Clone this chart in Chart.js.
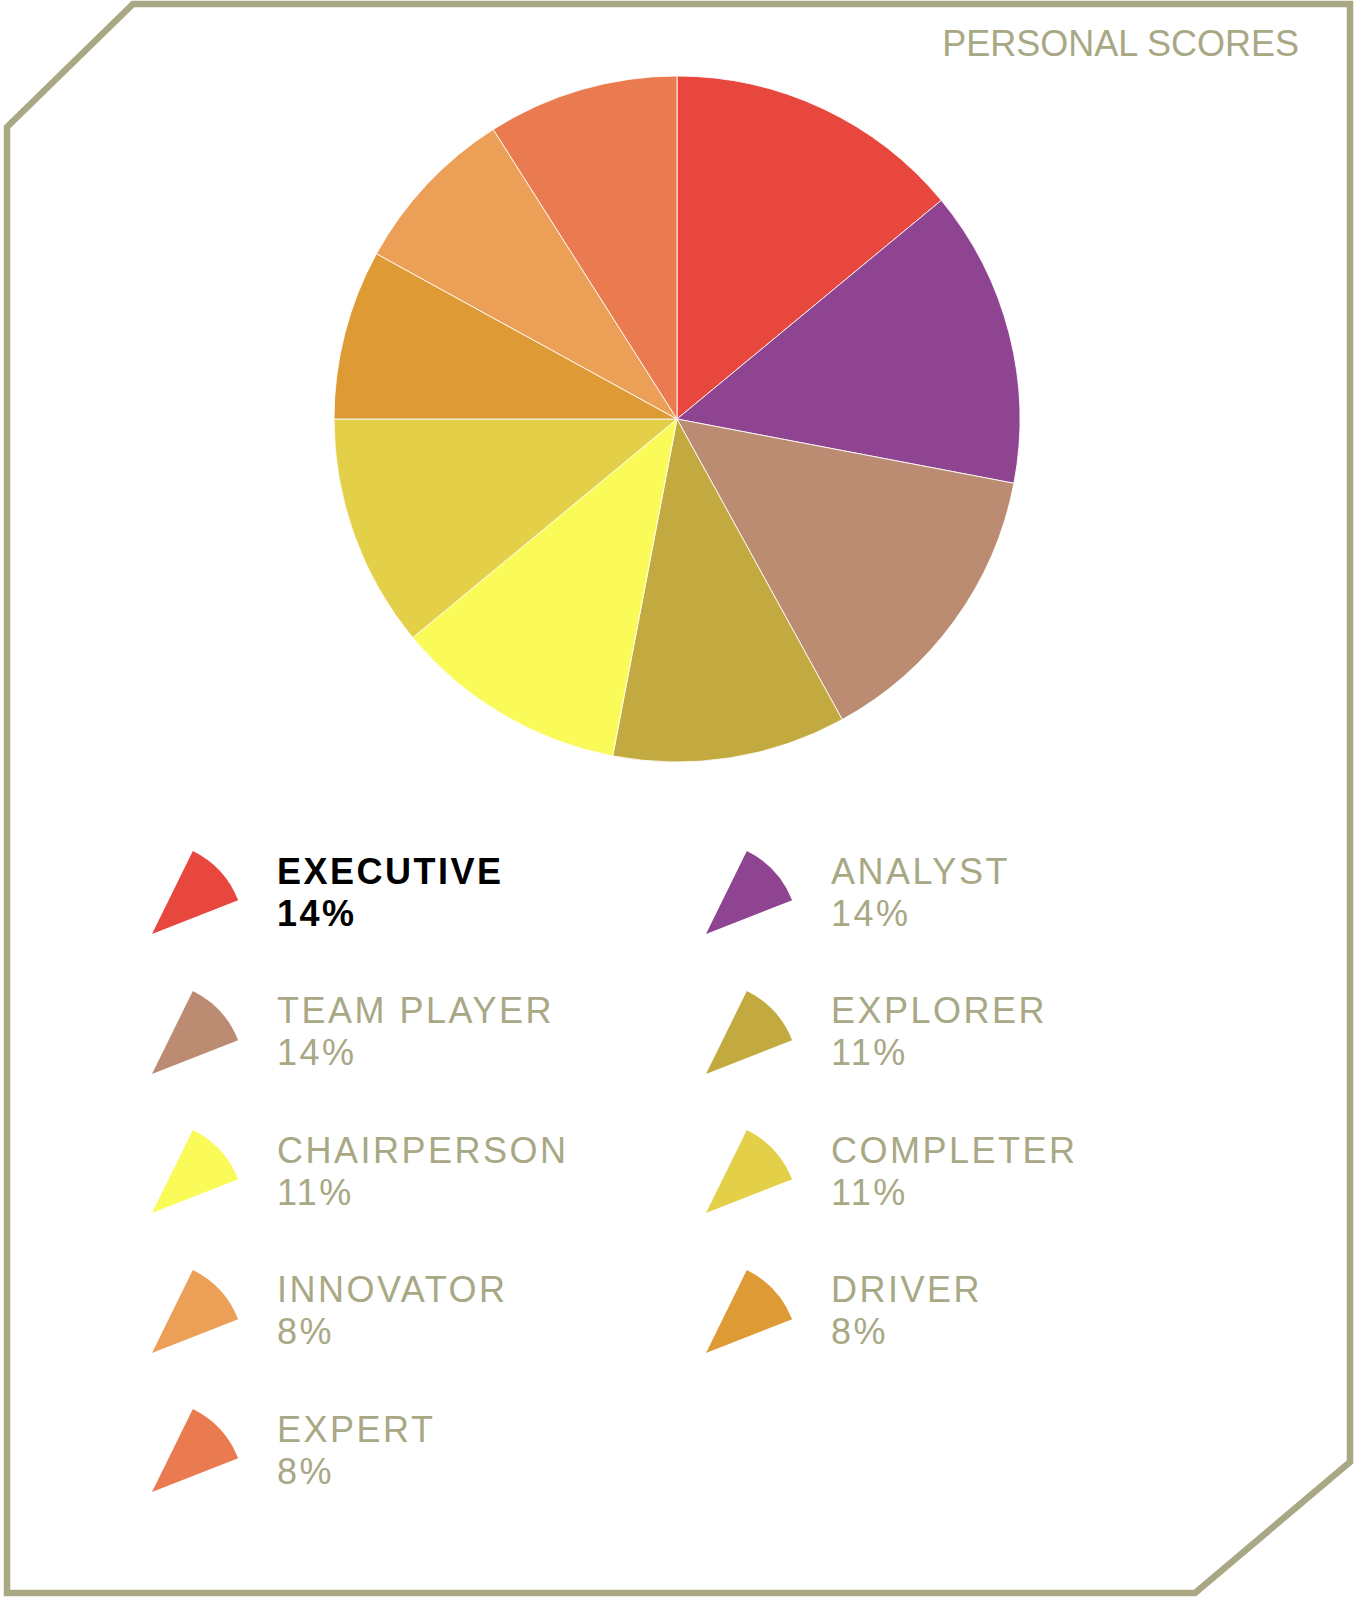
<!DOCTYPE html>
<html>
<head>
<meta charset="utf-8">
<script src="https://cdn.jsdelivr.net/npm/chart.js@4/dist/chart.umd.min.js"></script>
<style>
  html, body { margin: 0; padding: 0; background: #ffffff; }
  body { width: 1355px; height: 1600px; position: relative; overflow: hidden; font-family: "Liberation Sans", Arial, sans-serif; }
  #frame { position: absolute; left: 0; top: 0; }
  #title { position: absolute; right: 56px; top: 23px; font-size: 36px; line-height: 42px; color: #a8a885; white-space: nowrap; }
  #pieWrap { position: absolute; left: 317px; top: 59px; width: 720px; height: 720px; }
  .item { position: absolute; }
  .item svg { position: absolute; }
  .item .txt { position: absolute; font-size: 36px; line-height: 42px; letter-spacing: 2.5px; color: #a8a885; white-space: nowrap; }
  .item .txt.hl { color: #000000; font-weight: bold; }
</style>
</head>
<body>
<svg id="frame" width="1355" height="1600">
  <polygon points="7,127 133,4 1350,4 1350,1462 1195,1593 7,1593" fill="none" stroke="#a9a884" stroke-width="6.5" stroke-linejoin="miter"/>
</svg>
<div id="title">PERSONAL SCORES</div>
<div id="pieWrap"><canvas id="pie" width="720" height="720"></canvas></div>
<div id="legend"></div>
<script>
const categories = ["EXECUTIVE", "ANALYST", "TEAM PLAYER", "EXPLORER", "CHAIRPERSON", "COMPLETER", "DRIVER", "INNOVATOR", "EXPERT"];
const scores = [14, 14, 14, 11, 11, 11, 8, 8, 9];
const percentLabels = ["14%", "14%", "14%", "11%", "11%", "11%", "8%", "8%", "8%"];
const sliceColors = ["#e8473e", "#8e4490", "#bb8b72", "#c2aa40", "#fafa58", "#e4cf48", "#de9a35", "#eca057", "#ea7b50"];
const legendOrder = [0, 1, 2, 3, 4, 5, 7, 6, 8];
const highlightedIndex = 0;

const chart = new Chart(document.getElementById("pie"), {
  type: "pie",
  data: {
    labels: categories,
    datasets: [{
      data: scores,
      backgroundColor: sliceColors,
      borderColor: "rgba(255,255,255,0.85)",
      borderWidth: 1,
      radius: 343
    }]
  },
  options: {
    responsive: false,
    animation: false,
    events: [],
    layout: { padding: 0 },
    plugins: { legend: { display: false }, tooltip: { enabled: false }, title: { display: false } }
  }
});

// HTML legend built from the same arrays
const legend = document.getElementById("legend");
const colX = [152, 706];
const textX = [277, 831];
const firstBaseline = 884;
const rowStep = 139.5;
const wedgeR = 92.5;
const a1 = 21.4 * Math.PI / 180, a2 = 63.8 * Math.PI / 180;
legendOrder.forEach((i, pos) => {
  const name = categories[i];
  const col = pos % 2, row = Math.floor(pos / 2);
  const baseline = firstBaseline + row * rowStep;
  const apexX = colX[col], apexY = baseline + 50;
  const item = document.createElement("div");
  item.className = "item";
  item.style.left = "0px"; item.style.top = "0px";
  const svgNS = "http://www.w3.org/2000/svg";
  const svg = document.createElementNS(svgNS, "svg");
  svg.setAttribute("width", "110"); svg.setAttribute("height", "110");
  svg.style.left = (apexX - 5) + "px";
  svg.style.top = (apexY - 105) + "px";
  const ox = 5, oy = 105;
  const p1x = ox + wedgeR * Math.cos(a1), p1y = oy - wedgeR * Math.sin(a1);
  const p2x = ox + wedgeR * Math.cos(a2), p2y = oy - wedgeR * Math.sin(a2);
  const path = document.createElementNS(svgNS, "path");
  path.setAttribute("d", `M${ox},${oy} L${p1x.toFixed(2)},${p1y.toFixed(2)} A${wedgeR},${wedgeR} 0 0 0 ${p2x.toFixed(2)},${p2y.toFixed(2)} Z`);
  path.setAttribute("fill", sliceColors[i]);
  svg.appendChild(path);
  item.appendChild(svg);
  const txt = document.createElement("div");
  txt.className = "txt" + (i === highlightedIndex ? " hl" : "");
  txt.style.left = textX[col] + "px";
  txt.style.top = (baseline - 33.5) + "px";
  txt.innerHTML = name + "<br>" + percentLabels[i];
  item.appendChild(txt);
  legend.appendChild(item);
});
</script>
</body>
</html>
